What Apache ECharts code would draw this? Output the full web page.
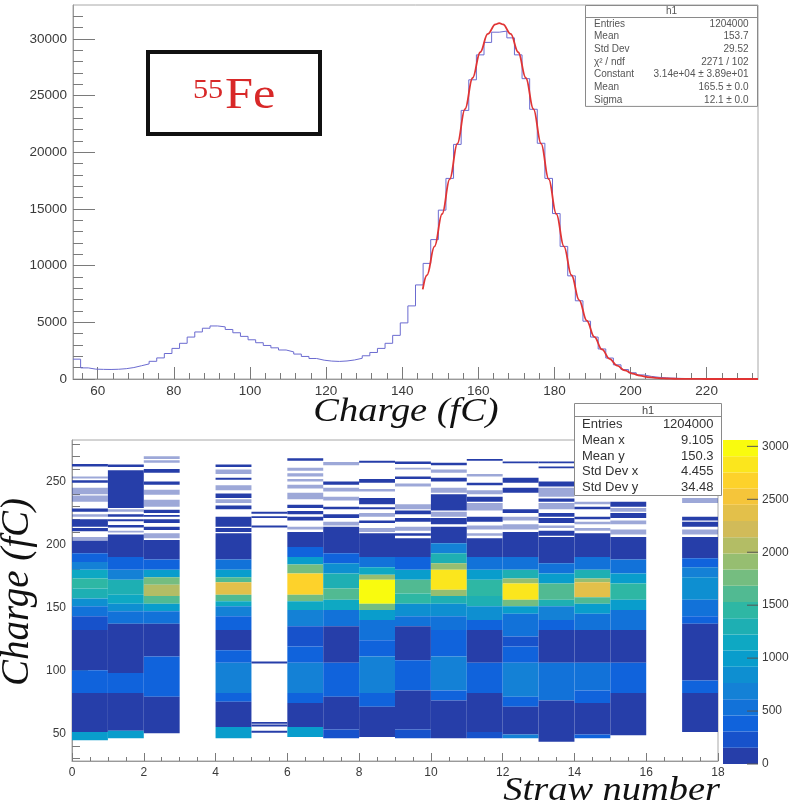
<!DOCTYPE html>
<html><head><meta charset="utf-8">
<script src="https://cdn.jsdelivr.net/npm/echarts@6/dist/echarts.min.js"></script>
<style>html,body{margin:0;padding:0;background:#fff}#c{width:795px;height:812px}</style>
</head><body><div id="c"></div>
<script>
// ================= DATA =================
// --- top: 1D charge histogram (2 fC bins starting at 53.5 fC) ---
const histStart = 53.5;
const histBinWidth = 2;
const histCounts = [
  1750, 980, 870, 850, 840, 860, 910, 1010, 1170, 1330,
  1560, 1860, 2250, 2700, 3150, 3700, 4150, 4480, 4680, 4600,
  4370, 4080, 3760, 3460, 3200, 2960, 2750, 2560, 2390, 2200,
  1990, 1810, 1660, 1580, 1550, 1590, 1680, 1830, 2050, 2340,
  2700, 3150, 3850, 4950, 6450, 8300, 10200, 12300, 14900, 17700,
  20700, 23700, 26400, 28600, 29700, 30600, 30700, 30100, 28600, 26500,
  23800, 20800, 17700, 14600, 11700, 9100, 6900, 5100, 3700, 2650,
  1850, 1250, 830, 550, 360, 230, 150, 100, 70, 50,
  35, 25, 20, 15, 12, 10, 8, 6, 5, 4
];
// gaussian fit curve
const fitX = [145.4,146.5,148.5,150.5,152.5,154.5,156.5,158.5,160.5,162.5,164.5,165.5,166.5,168.5,170.5,172.5,174.5,176.5,178.5,180.5,182.5,184.5,186.5,188.5,190.5,192.5,194.5,196.5,198.5,200.5,202.5,204.5,206.5,208.5,210.5,212.5,214.5,216.5,220,226,233.5];
const fitY = [7900,9153,11703,14563,17631,20771,23811,26561,28831,30449,31293,31400,31293,30449,28831,26561,23811,20771,17631,14563,11703,9153,6965,5156,3714,2606,1778,1179,762,479,293,174,101,57,31,17,9,4,1,0,0];

const topXTicks = [60,80,100,120,140,160,180,200,220];
const topXMinorTicks = [56,64,68,72,76,84,88,92,96,104,108,112,116,124,128,132,136,144,148,152,156,164,168,172,176,184,188,192,196,204,208,212,216,224,228,232];
const topYTicks = [0,5000,10000,15000,20000,25000,30000];
const topYMinorTicks = [1000,2000,3000,4000,6000,7000,8000,9000,11000,12000,13000,14000,16000,17000,18000,19000,21000,22000,23000,24000,26000,27000,28000,29000,31000,32000];

// --- bottom: 2D straw vs charge, bands per straw: [chargeLow, chargeHigh, counts] ---
const straw0 = [[262,264,40],[252.5,254,8],[249,251,40],[240,245,8],[234,239,8],[226,228.5,40],[222,224,8],[214,220,40],[210.5,213,40],[203,206,8],
  [193,203,70],[186,193,380],[180,186,690],[173,180,1150],[165,173,1450],[157,165,1300],[151,157,840],[143,151,530],[132,143,230],[100,132,80],[82,100,430],[51,82,90],[44.5,51,990]];
const straw1 = [[261.5,263.5,40],[229,259,30],[226,228,8],[222,224,40],[218.5,220,40],[213.5,215.5,40],[209.5,211,8],
  [190,208,70],[180,190,380],[172,180,690],[160,172,1300],[153,160,1150],[147,153,840],[137,147,530],[98,137,80],[82,98,380],[52,82,90],[46,52,990]];
const straw2 = [[268,270,8],[265,267,8],[257,260,40],[247.5,250,40],[239.5,243.5,8],[230,235.5,8],[225,227.5,40],[222,223.5,40],[217,220,40],[211.5,214,40],[205,209,8],
  [188,203.5,70],[180,188,380],[174,180,990],[168,174,1760],[159,168,2100],[153,159,1600],[147,153,990],[137,147,530],[111,137,80],[79,111,450],[50,79,90]];
const straw3 = [];
const straw4 = [[261.5,263.5,40],[256,259.5,8],[251.5,253,40],[243,247,8],[237,240.5,40],[233,236,8],[228,231,40],[214,222,40],[210,213,40],
  [188,209,70],[180,188,530],[174,180,990],[170,174,1600],[160,170,2400],[155,160,1600],[151,155,1150],[143,151,690],[132,143,380],[116,132,80],[106,116,380],[82,106,620],[75,82,380],[55,75,90],[46,55,1000]];
const straw5 = [[224.5,226,40],[221,222.5,40],[213.5,215,40],[105.5,107,40],[57.5,59,40],[55.5,57,40],[50.5,52,40]];
const straw6 = [[266.5,268.5,40],[258.5,261,8],[254,256.5,8],[250,252,8],[244.5,247.5,8],[236,241,8],[229,231.5,40],[224,226.5,40],[219,222,40],[212,214,8],
  [198,210,70],[190,198,380],[184,190,990],[177,184,1760],[160,177,2700],[155,160,1760],[148,155,1150],[135,148,690],[119,135,160],[106,119,380],[82,106,690],[74,82,380],[55,74,90],[47,55,990]];
const straw7 = [[263,265.5,8],[247.5,250,40],[242,245,8],[235,238,8],[228,230,40],[221,224,40],[215,218,8],
  [193,214,70],[185,193,380],[177,185,900],[165,177,1350],[156,165,1600],[148,156,1150],[135,148,600],[106,135,80],[79,106,450],[53,79,90],[46,53,230]];
const straw8 = [[265,266.5,40],[249,252,40],[242,244,8],[232,237,40],[228,229.5,40],[222,225,8],[217,219,40],[210,213,8],
  [190,209,70],[182,190,530],[176,182,1150],[172,176,1910],[153,172,2950],[148,153,1760],[140,148,990],[124,140,530],[111,124,380],[82,111,690],[71,82,380],[47,71,100]];
const straw9 = [[264,266,40],[259.5,261,8],[252,254,40],[246,248.5,8],[228,232,8],[224,227,40],[218,221,40],[211,214,8],[207,209,40],
  [190,205,70],[180,190,380],[172,180,990],[161,172,1600],[153,161,1450],[143,153,840],[135,143,530],[108,135,80],[84,108,380],[53,84,90],[46,53,230]];
const straw10 = [[263,265,40],[257,259.5,8],[250,253,40],[241,245,8],[227,240,40],[222,226,8],[216,221,40],
  [201,214,70],[193,201,690],[185,193,1300],[180,185,1910],[164,180,2800],[159,164,1910],[153,159,1300],[143,153,840],[132,143,530],[111,132,380],[84,111,690],[76,84,380],[46,76,90]];
const straw11 = [[266.5,268,40],[254,256,8],[247,249,40],[240,243,8],[234,238,40],[227,233,8],[218,222,40],[212,215,8],[207,209,8],
  [190,205,70],[180,190,530],[172,180,990],[159,172,1450],[151,159,1300],[140,151,840],[132,140,380],[106,132,80],[82,106,450],[51,82,90],[46,51,230]];
const straw12 = [[264.5,266,40],[249,253,40],[241,245,40],[225,228,40],[219,222,8],[212,216,8],[206,210,40],
  [190,206,70],[180,190,530],[173,180,1300],[169,173,1910],[156,169,2900],[151,156,1760],[145,151,990],[127,145,530],[119,127,230],[106,119,380],[79,106,620],[71,79,380],[49,71,90],[46,49,690]];
const straw13 = [[264.5,266,40],[260.5,262,40],[246,250,40],[238,245,8],[234,236.5,40],[228,233,8],[222,225,40],[217,221,40],[213,215,8],[207,211,40],
  [185,206,70],[177,185,530],[169,177,990],[156,169,1600],[151,156,1300],[140,151,690],[132,140,380],[106,132,100],[76,106,530],[43.3,76,90]];
const straw14 = [[262,264,40],[252,254,40],[245,248,8],[232,234,8],[228,230,40],[220,222,40],[216,218,8],[211,213,8],
  [190,209,70],[180,190,530],[173,180,1300],[170,173,1910],[158,170,2400],[153,158,1600],[145,153,990],[132,145,530],[106,132,100],[84,106,530],[74,84,380],[49,74,90],[46,49,380]];
const straw15 = [[258,260,8],[250,252,40],[240,243,8],[230,234,40],[226,229,8],[221,225,40],[216,219,8],[208,212,8],
  [188,206,70],[177,188,530],[169,177,990],[156,169,1380],[148,156,990],[132,148,530],[106,132,80],[82,106,380],[48.5,82,90]];
const straw16 = [];
const straw17 = [[233,237,8],[219,222,40],[214,218,40],[208,212,8],
  [189,206,70],[182,189,380],[174,182,690],[156,174,900],[143,156,530],[137,143,380],[92,137,80],[82,92,380],[51,82,90]];

const botXTicks = [0,2,4,6,8,10,12,14,16,18];
const botXMinorTicks = [0.5,1,1.5,2.5,3,3.5,4.5,5,5.5,6.5,7,7.5,8.5,9,9.5,10.5,11,11.5,12.5,13,13.5,14.5,15,15.5,16.5,17,17.5];
const botYTicks = [50,100,150,200,250];
const botYMinorTicks = [30,40,60,70,80,90,110,120,130,140,160,170,180,190,210,220,230,240,260,270,280];

// colour palette (20 contour levels, 0..3060)
const paletteMax = 3060;
const levelColors = ['#263ea9','#1752cb','#1063dc','#1272d9','#1481d6','#0e8fd1','#099dcc','#0ea8c3','#1eafb3','#2eb7a4',
  '#51ba92','#75bd80','#96be71','#b3bd65','#d1bb59','#e3c04a','#f5c53a','#fdd22b','#fbe61d','#f9fb0e'];
const paletteTicks = [0,500,1000,1500,2000,2500,3000];

// stats boxes
const statsTopLabels = ['Entries','Mean','Std Dev','\u03c7\u00b2 / ndf','Constant','Mean','Sigma'];
const statsTopValues = ['1204000','153.7','29.52','2271 / 102','3.14e+04 \u00b1 3.89e+01','165.5 \u00b1 0.0','12.1 \u00b1 0.0'];
const statsBotLabels = ['Entries','Mean x','Mean y','Std Dev x','Std Dev y'];
const statsBotValues = ['1204000','9.105','150.3','4.455','34.48'];

// ================= BUILD =================
const SANS = "'Liberation Sans', Arial, Helvetica, sans-serif";
const SERIF = "'Liberation Serif', 'Times New Roman', serif";

const histLine = histCounts.map((c, i) => [histStart + i * histBinWidth, c]);
histLine.push([histStart + histCounts.length * histBinWidth, histCounts[histCounts.length - 1]]);
const fitLine = fitX.map((x, i) => [x, fitY[i]]);

const strawBands = [straw0,straw1,straw2,straw3,straw4,straw5,straw6,straw7,straw8,straw9,straw10,straw11,straw12,straw13,straw14,straw15,straw16,straw17];
const heatData = [];
strawBands.forEach((bands, i) => bands.forEach(b => heatData.push([i, i + 1, b[0], b[1], b[2]])));

const step = paletteMax / levelColors.length;
const paletteData = levelColors.map((c, i) => [0, 1, i * step, (i + 1) * step, i * step + step / 2]);
const pieces = levelColors.map((c, i) => ({ gte: i * step, lt: (i + 1) * step, color: c }));
pieces[pieces.length - 1].lte = paletteMax; delete pieces[pieces.length - 1].lt;
const paletteTickData = paletteTicks.map(v => [1, v]);

function renderCell(params, api) {
  const a = api.coord([api.value(0), api.value(3)]);
  const b = api.coord([api.value(1), api.value(2)]);
  const v = api.value(4);
  return {
    type: 'rect',
    shape: { x: a[0], y: a[1], width: b[0] - a[0], height: b[1] - a[1] },
    style: { fill: api.visual('color'), opacity: v < 20 ? 0.45 : 1 }
  };
}
function renderPaletteTick(params, api) {
  const p = api.coord([api.value(0), api.value(1)]);
  return { type: 'line', shape: { x1: p[0] - 11, y1: p[1], x2: p[0], y2: p[1] }, style: { stroke: '#555', lineWidth: 1 } };
}

const tickColor = '#7a7a7a';
const axisColor = '#9a9a9a';
const plainNumber = v => String(v);
function majorAxis(gridIndex, min, max, pos, ticks, len, fontSize, margin) {
  return {
    gridIndex, type: 'value', min, max, position: pos,
    axisLine: { show: true, onZero: false, lineStyle: { color: axisColor, width: 1 } },
    axisTick: { show: true, inside: true, length: len, customValues: ticks, lineStyle: { color: tickColor } },
    axisLabel: { show: true, customValues: ticks, fontSize, color: '#3a3a3a', margin, fontFamily: SANS, formatter: plainNumber },
    splitLine: { show: false }
  };
}
function minorAxis(gridIndex, min, max, pos, ticks, len) {
  return {
    gridIndex, type: 'value', min, max, position: pos,
    axisLine: { show: false, onZero: false },
    axisTick: { show: true, inside: true, length: len, customValues: ticks, lineStyle: { color: tickColor } },
    axisLabel: { show: false },
    splitLine: { show: false }
  };
}

const graphics = [];
// 55Fe label box
graphics.push({ type: 'rect', shape: { x: 148, y: 52, width: 172, height: 82 }, style: { fill: '#fff', stroke: '#111', lineWidth: 4 }, z: 100 });
graphics.push({ type: 'text', x: 193, y: 90.5, scaleX: 1.12, style: { text: '55', font: '27px ' + SERIF, fill: '#d82828', align: 'left', verticalAlign: 'middle' }, z: 101 });
graphics.push({ type: 'text', x: 225, y: 96, scaleX: 1.12, style: { text: 'Fe', font: '45px ' + SERIF, fill: '#d82828', align: 'left', verticalAlign: 'middle' }, z: 101 });
// axis titles
graphics.push({ type: 'text', x: 406, y: 412, scaleX: 1.13, style: { text: 'Charge (fC)', font: 'italic 34px ' + SERIF, fill: '#111', align: 'center', verticalAlign: 'middle' }, z: 101 });
graphics.push({ type: 'text', x: 720, y: 791, scaleX: 1.13, style: { text: 'Straw number', font: 'italic 34px ' + SERIF, fill: '#111', align: 'right', verticalAlign: 'middle' }, z: 101 });
graphics.push({ type: 'text', x: 18, y: 592, rotation: Math.PI / 2, style: { text: 'Charge (fC)', font: 'italic 39px ' + SERIF, fill: '#111', align: 'center', verticalAlign: 'middle' }, z: 101 });

// top stats box
(function () {
  const x0 = 585.5, y0 = 5.5, w = 172, hHead = 12, rowH = 12.7;
  const h = hHead + rowH * statsTopLabels.length;
  graphics.push({ type: 'rect', shape: { x: x0, y: y0, width: w, height: h }, style: { fill: '#fff', stroke: '#8a8a8a', lineWidth: 1 }, z: 100 });
  graphics.push({ type: 'line', shape: { x1: x0, y1: y0 + hHead, x2: x0 + w, y2: y0 + hHead }, style: { stroke: '#8a8a8a', lineWidth: 1 }, z: 101 });
  graphics.push({ type: 'text', x: x0 + w / 2, y: y0 + hHead / 2, style: { text: 'h1', font: '10px ' + SANS, fill: '#555', align: 'center', verticalAlign: 'middle' }, z: 101 });
  statsTopLabels.forEach((t, i) => {
    const yy = y0 + hHead + rowH * (i + 0.5);
    graphics.push({ type: 'text', x: x0 + 8.5, y: yy, style: { text: t, font: '10px ' + SANS, fill: '#555', align: 'left', verticalAlign: 'middle' }, z: 101 });
    graphics.push({ type: 'text', x: x0 + w - 9, y: yy, style: { text: statsTopValues[i], font: '10px ' + SANS, fill: '#555', align: 'right', verticalAlign: 'middle' }, z: 101 });
  });
})();
// bottom stats box
(function () {
  const x0 = 574.5, y0 = 403.5, w = 147, hHead = 13, rowH = 15.8;
  const h = hHead + rowH * statsBotLabels.length;
  graphics.push({ type: 'rect', shape: { x: x0, y: y0, width: w, height: h }, style: { fill: '#fff', stroke: '#8a8a8a', lineWidth: 1 }, z: 100 });
  graphics.push({ type: 'line', shape: { x1: x0, y1: y0 + hHead, x2: x0 + w, y2: y0 + hHead }, style: { stroke: '#8a8a8a', lineWidth: 1 }, z: 101 });
  graphics.push({ type: 'text', x: x0 + w / 2, y: y0 + hHead / 2 + 0.5, style: { text: 'h1', font: '11px ' + SANS, fill: '#444', align: 'center', verticalAlign: 'middle' }, z: 101 });
  statsBotLabels.forEach((t, i) => {
    const yy = y0 + hHead + rowH * (i + 0.5);
    graphics.push({ type: 'text', x: x0 + 7.5, y: yy, style: { text: t, font: '13px ' + SANS, fill: '#333', align: 'left', verticalAlign: 'middle' }, z: 101 });
    graphics.push({ type: 'text', x: x0 + w - 8, y: yy, style: { text: statsBotValues[i], font: '13px ' + SANS, fill: '#333', align: 'right', verticalAlign: 'middle' }, z: 101 });
  });
})();

const paletteAxis = majorAxis(2, 0, paletteMax, 'right', paletteTicks, 11, 12, 4);
paletteAxis.axisLine = { show: false };
paletteAxis.axisTick = { show: false };

const option = {
  animation: false,
  backgroundColor: '#fff',
  grid: [
    { left: 73, top: 5, width: 685, height: 374, containLabel: false, show: true, borderColor: '#a8a8a8', borderWidth: 1, backgroundColor: 'transparent' },
    { left: 72, top: 440, width: 646, height: 321, containLabel: false, show: true, borderColor: '#a8a8a8', borderWidth: 1, backgroundColor: 'transparent' },
    { left: 723, top: 440, width: 35, height: 324, containLabel: false, show: false }
  ],
  xAxis: [
    majorAxis(0, 53.5, 233.5, 'bottom', topXTicks, 12, 13.5, 5),
    minorAxis(0, 53.5, 233.5, 'bottom', topXMinorTicks, 6),
    majorAxis(1, 0, 18, 'bottom', botXTicks, 8, 12, 6),
    minorAxis(1, 0, 18, 'bottom', botXMinorTicks, 4),
    { gridIndex: 2, type: 'value', min: 0, max: 1, show: false }
  ],
  yAxis: [
    majorAxis(0, 0, 33000, 'left', topYTicks, 22, 13.5, 6),
    minorAxis(0, 0, 33000, 'left', topYMinorTicks, 10),
    majorAxis(1, 28, 283, 'left', botYTicks, 16, 12, 6),
    minorAxis(1, 28, 283, 'left', botYMinorTicks, 8),
    paletteAxis
  ],
  visualMap: [{ type: 'piecewise', show: false, dimension: 4, seriesIndex: [2, 3], pieces }],
  series: [
    { type: 'line', xAxisIndex: 0, yAxisIndex: 0, data: histLine, step: 'end', symbol: 'none', lineStyle: { color: '#6b6bd0', width: 1 }, z: 3, silent: true },
    { type: 'line', xAxisIndex: 0, yAxisIndex: 0, data: fitLine, smooth: 0.4, smoothMonotone: 'x', symbol: 'none', lineStyle: { color: '#e03434', width: 1.8 }, z: 4, silent: true },
    { type: 'custom', xAxisIndex: 2, yAxisIndex: 2, data: heatData, renderItem: renderCell, encode: { x: [0, 1], y: [2, 3] }, clip: true, silent: true, z: 2 },
    { type: 'custom', xAxisIndex: 4, yAxisIndex: 4, data: paletteData, renderItem: renderCell, encode: { x: [0, 1], y: [2, 3] }, clip: false, silent: true, z: 2 },
    { type: 'custom', xAxisIndex: 4, yAxisIndex: 4, data: paletteTickData, renderItem: renderPaletteTick, encode: { x: 0, y: 1 }, clip: false, silent: true, z: 5 }
  ],
  graphic: { elements: graphics }
};

const chart = echarts.init(document.getElementById('c'), null, { renderer: 'canvas' });
chart.setOption(option);
</script>
</body></html>
